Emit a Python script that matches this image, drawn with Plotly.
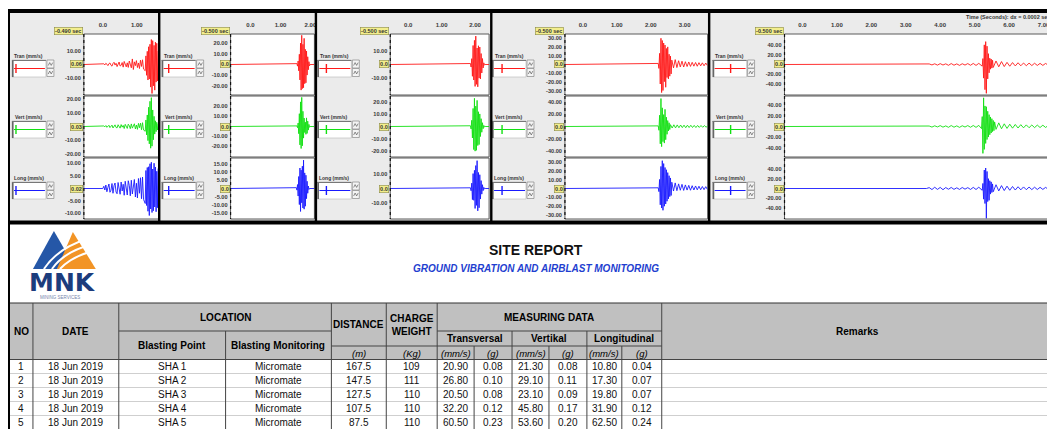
import plotly.graph_objects as go

# page is drawn 8px in from the window corner (default body margin)
OFF = 8
W, H = 1047, 421

# ------------------------------------------------------------------ data
CHANNELS = ["Tran (mm/s)", "Vert (mm/s)", "Long (mm/s)"]
SEC_LABELS = ["-0.490 sec", "-0.500 sec", "-0.500 sec", "-0.500 sec", "-0.500 sec"]
ZERO_LABELS = [["0.06", "0.03", "0.02"], ["0.0", "0.0", "0.0"], ["0.0", "0.0", "0.0"],
               ["0.0", "0.0", "0.0"], ["0.0", "0.0", "0.0"]]
X_TICKS = [[0, 1], [0, 1, 2], [0, 1, 2], [0, 1, 2, 3], [0, 1, 2, 3, 4, 5, 6, 7]]
X_TICK_TEXT = [["0.0", "1.00"], ["0.0", "1.00", "2.00"], ["0.0", "1.00", "2.00"],
               ["0.0", "1.00", "2.00", "3.00"],
               ["0.0", "1.00", "2.00", "3.00", "4.00", "5.00", "6.00", "7.00"]]
Y_TICKS = [
    [[10, -10], [20, 10, -10, -20], [10, 5, -5, -10]],
    [[20, 10, -10, -20], [20, 10, -10, -20], [15, 10, 5, -5, -10, -15]],
    [[10, -10], [20, 10, -10, -20], [10, -10]],
    [[30, 20, 10, -10, -20, -30], [40, 20, -20, -40], [30, 20, 10, -10, -20, -30]],
    [[40, 20, -20, -40], [40, 20, -20, -40], [40, 20, -20, -40]],
]
TIME_NOTE = "Time (Seconds): dx = 0.0002 sec"

# waveform segments: (start time s, sample step s, values mm/s)
P1_TRAN = [(0.0, 0.03, [0, 0.5, -0.3, 0.9, 0.2, -0.8, 0.6, 1.1, -0.5, -1.2, 0.7, 1.6, -0.4, 0.9, -1.5, 0.3,
                        1.8, -1.1, -0.6, 1.4, -1.9, 2.2, 0.5, -1.7, 1.2, -2.1, 2.5, 0.6, -2.4, 4.0, -3.6, 1.9,
                        -0.8, 2.8, -2.2, 1.1, -2.9, 3.1, -1.4, 3.4, -3.3]),
           (1.25, 0.02, [-4.5, 6.2, -7.8, 9.5, -11.2, 12.8, -10.5, 14.6, -16.3, 18.0, -20.9, 17.2, -15.4, 13.8,
                         -18.5, 16.1, -12.7, 15.3, -11.9, 9.8])]
P1_VERT = [(0.0, 0.03, [0, 0.4, -0.2, 0.7, -0.6, 0.3, 0.9, -0.8, -0.2, 1.0, -1.1, 0.5, 1.2, -0.7, -1.0, 1.3,
                        0.2, -1.2, 1.4, -0.5, 0.8, -1.5, 1.6, -0.3, -1.4, 1.7, 0.6, -1.6, 1.9, -1.2, 0.4, 2.0,
                        -1.8, 1.1, -2.1, 2.3, -0.9, 2.5, -2.4, 2.8, -2.6]),
           (1.25, 0.02, [-3.5, 4.8, -6.2, 8.5, -10.4, 14.2, -12.8, 18.6, -16.0, 21.3, -14.5, 12.2, -9.8, 7.5,
                         -5.6, 4.2, -3.8, 3.1, -2.6, 2.0])]
P1_LONG = [(0.0, 0.03, [0, 0.9, -0.6, 1.4, -1.3, 0.4, 1.8, -1.5, -0.7, 2.0, -1.9, 1.1, 2.2, -1.4, -2.1, 2.4,
                        0.6, -2.3, 2.6, -1.0, 1.7, -2.7, 2.9, -0.8, -2.6, 3.1, 1.2, -2.9, 3.3, -2.2, 0.9, 3.6,
                        -3.4, 2.1, -3.8, 4.0, -1.9, 4.3, -4.1, 4.6, -4.4]),
           (1.25, 0.02, [-6.0, 7.2, -6.8, 8.4, -9.1, 8.7, -10.8, 9.9, -8.2, 10.5, -9.6, 7.8, -8.9, 10.1, -7.4,
                         8.6, -9.3, 6.9, -7.7, 8.0])]

P2_TRAN = [(1.55, 0.02, [0.8, -1.5, 3.2, -5.8, 9.4, -14.2, 19.6, -23.5, 26.8, -22.1, 18.5, -21.3, 24.0, -17.6,
                         13.9, -16.8, 12.4, -9.7, 7.1, -4.8, 2.6, -1.2])]
P2_VERT = [(1.55, 0.02, [0.6, -1.2, 3.5, -7.2, 12.8, -18.4, 24.6, -22.0, 29.1, -19.3, 15.2, -11.6, 8.4, -6.0,
                         4.3, -7.8, 8.6, -6.9, 5.4, -3.6, 2.1, -0.8])]
P2_LONG = [(1.53, 0.02, [0.5, -1.0, 2.4, -4.6, 7.3, -9.8, 12.5, -14.0, 11.2, -8.7, 13.6, -11.9, 17.3, -12.6,
                         9.5, -10.8, 8.1, -6.2, 4.4, -2.9, 1.5, -0.6])]

P3_TRAN = [(1.86, 0.02, [0.7, -1.8, 4.2, -8.5, 13.7, -11.2, 17.4, -15.8, 20.5, -14.3, 11.9, -16.1, 13.5, -9.8,
                         12.6, -10.4, 7.9, -6.1, 4.3, -2.5, 1.2, -0.5])]
P3_VERT = [(1.86, 0.02, [0.6, -2.0, 5.1, -9.4, 14.8, -18.9, 23.1, -20.2, 16.7, -19.5, 21.4, -15.6, 12.1, -14.8,
                         10.3, -8.2, 6.4, -4.7, 3.1, -1.8, 0.9, -0.4])]
P3_LONG = [(1.86, 0.02, [0.5, -1.6, 3.8, -7.9, 10.6, -8.4, 12.9, -14.2, 16.3, -12.0, 19.8, -15.9, 11.4, -13.7,
                         9.8, -7.5, 5.6, -4.0, 2.7, -1.5, 0.8, -0.3])]

P4_TRAN = [(2.22, 0.02, [1.2, -4.5, 12.8, -22.4, 30.1, -32.2, 27.5, -29.8, 24.6, -19.7, 22.3, -26.1, 18.4, -14.9,
                         20.2, -16.5, 11.8, -13.4, 9.6, -10.8]),
           (2.62, 0.05, [5.0, -3.9, 5.6, -3.5, 4.3, -2.8, 3.8, -2.9, 3.2, -2.3, 2.9, -2.2, 2.5, -1.9, 2.3, -2.0,
                         2.1, -1.6, 1.9, -1.5, 1.7, -1.3])]
P4_VERT = [(2.22, 0.02, [1.0, -6.2, 18.5, -28.4, 45.8, -33.0, 30.6, -24.8, 19.5, -27.2, 28.1, -21.6, 15.3, -12.8,
                         9.7, -7.4, 6.1, -5.0]),
           (2.58, 0.05, [3.0, -2.5, 2.8, -2.3, 2.6, -2.0, 2.4, -1.8, 2.2, -2.0, 2.1, -1.7, 2.0, -1.6, 1.8, -1.7,
                         1.7, -1.5, 1.6, -1.3, 1.5, -1.2, 1.4])]
P4_LONG = [(2.22, 0.02, [0.8, -3.6, 10.4, -18.7, 25.3, -22.4, 31.9, -25.0, 28.6, -20.3, 24.1, -17.8, 21.5, -14.6,
                         18.2, -11.9, 14.7, -9.3, 12.1, -8.0]),
           (2.62, 0.05, [7.2, -2.9, 6.4, -2.5, 5.3, -2.0, 4.8, -2.2, 4.1, -1.8, 3.6, -2.0, 3.2, -1.7, 2.9, -1.5,
                         2.6, -1.4, 2.3, -1.3, 2.1, -1.1])]

P5_TRAN = [(3.6, 0.08, [0, 1.2, -0.9, 1.5, -1.3, 1.8, -1.1, 1.4, -1.7, 2.0, -1.5, 1.3, -1.8, 1.6, -1.2, 1.9,
                        -1.6, 2.2, -1.9, 2.4]),
           (5.22, 0.02, [-3.5, 12.4, -28.6, 41.2, -52.8, 48.0, -60.5, 38.4, -30.2, 22.7, -17.5, 13.2, -9.8, 11.4,
                         -7.6, 8.9]),
           (5.54, 0.08, [-6.2, 7.4, -4.8, 6.1, -4.3, 4.5, -3.6, 4.0, -3.0, 3.6, -2.7, 3.1, -2.5, 2.9, -2.2, 2.6,
                         -2.0, 2.4, -1.9, 2.2, -1.7, 2.0])]
P5_VERT = [(3.6, 0.08, [0, 0.9, -1.1, 1.3, -0.8, 1.6, -1.2, 1.1, -1.5, 1.8, -1.3, 1.2, -1.6, 1.4, -1.0, 1.7,
                        -1.4, 1.9, -1.6, 2.1]),
           (5.2, 0.02, [-4.0, 18.5, -50.2, 53.6, -42.8, 38.4, -31.6, 36.9, -24.3, 28.5, -19.7, 22.1, -15.4, 17.8,
                        -12.2, 14.6, -9.5, 11.3, -7.8, 8.6]),
           (5.62, 0.08, [-5.4, 6.8, -4.2, 5.0, -3.6, 4.3, -3.1, 3.8, -2.8, 3.4, -2.5, 3.0, -2.3, 2.8, -2.1, 2.6,
                         -1.9, 2.4, -1.8, 2.2, -1.7])]
P5_LONG = [(3.6, 0.08, [0, 1.8, -2.2, 2.6, -1.9, 2.3, -2.5, 2.0, -1.6, 2.2, -1.8, 1.5, -1.9, 2.1, -1.4, 1.8,
                        -2.0, 2.4, -2.1, 2.7]),
           (5.22, 0.02, [-3.8, 10.6, -22.4, 38.7, -31.5, 43.0, -62.5, 35.8, -27.4, 20.6, -24.8, 16.3, -11.7, 13.9,
                         -8.4, 9.6]),
           (5.54, 0.08, [-6.8, 7.9, -5.1, 6.0, -4.3, 4.9, -3.7, 4.2, -3.2, 3.7, -2.8, 3.3, -2.5, 3.0, -2.3, 2.7,
                         -2.1, 2.5, -1.9, 2.3, -1.8, 2.1])]

WAVES = [[P1_TRAN, P1_VERT, P1_LONG], [P2_TRAN, P2_VERT, P2_LONG], [P3_TRAN, P3_VERT, P3_LONG],
         [P4_TRAN, P4_VERT, P4_LONG], [P5_TRAN, P5_VERT, P5_LONG]]

# report table
TITLE = "SITE REPORT"
SUBTITLE = "GROUND VIBRATION AND AIRBLAST MONITORING"
NO = [1, 2, 3, 4, 5]
DATES = ["18 Jun 2019", "18 Jun 2019", "18 Jun 2019", "18 Jun 2019", "18 Jun 2019"]
BLAST_POINT = ["SHA 1", "SHA 2", "SHA 3", "SHA 4", "SHA 5"]
MONITOR = ["Micromate", "Micromate", "Micromate", "Micromate", "Micromate"]
DISTANCE = [167.5, 147.5, 127.5, 107.5, 87.5]
CHARGE = [109, 111, 110, 110, 110]
TRAN_PPV = [20.90, 26.80, 20.50, 32.20, 60.50]
TRAN_G = [0.08, 0.10, 0.08, 0.12, 0.23]
VERT_PPV = [21.30, 29.10, 23.10, 45.80, 53.60]
VERT_G = [0.08, 0.11, 0.09, 0.17, 0.20]
LONG_PPV = [10.80, 17.30, 19.80, 31.90, 62.50]
LONG_G = [0.04, 0.07, 0.07, 0.12, 0.24]

# ------------------------------------------------------------------ layout constants (window pixels)
PANELS = [
    dict(px0=84, px1=159, zero=103, pps=34.0, box=12, spike=4),
    dict(px0=231, px1=315, zero=251, pps=30.0, box=162, spike=7),
    dict(px0=391, px1=490, zero=409, pps=33.5, box=318, spike=9),
    dict(px0=566, px1=709, zero=584, pps=34.0, box=493, spike=10),
    dict(px0=786, px1=1055, zero=804, pps=34.5, box=714, spike=18),
]
ROWS = [(34, 95), (96, 157), (158, 219)]
BOX_Y = [60, 121, 182]
Y_HALF = [[22, 22.5, 12.2], [28, 30.5, 18.6], [22, 25, 21.7], [35, 50, 35], [64, 57, 64]]
COLORS = ["#ff1a1a", "#12e012", "#1a1aff"]

NARROW = "Liberation Sans Narrow, Arial Narrow, Liberation Sans, Arial, sans-serif"
SANS = "Liberation Sans, Arial, sans-serif"

shapes, anns = [], []


def fx(x):
    return (x - OFF) / W


def fy(y):
    return 1 - (y - OFF) / H


def rect(x0, y0, x1, y1, fill=None, line=None, lw=1, layer="below"):
    shapes.append(dict(type="rect", xref="paper", yref="paper", x0=fx(x0), x1=fx(x1), y0=fy(y1), y1=fy(y0),
                       fillcolor=fill or "rgba(0,0,0,0)",
                       line=dict(color=line or "rgba(0,0,0,0)", width=lw if line else 0), layer=layer))


def seg(x0, y0, x1, y1, color, lw=1, layer="below", dash="solid"):
    shapes.append(dict(type="line", xref="paper", yref="paper", x0=fx(x0), x1=fx(x1), y0=fy(y0), y1=fy(y1),
                       line=dict(color=color, width=lw, dash=dash), layer=layer))


def path(cmds, fill=None, line=None, lw=1, layer="below", close=False):
    """cmds: list of ('M'|'L', x, y) or ('Q', cx, cy, x, y) in window pixels."""
    parts = []
    for c in cmds:
        op, pts = c[0], c[1:]
        coords = " ".join(f"{fx(pts[i]):.5f},{fy(pts[i + 1]):.5f}" for i in range(0, len(pts), 2))
        parts.append(f"{op}{coords}")
    s = " ".join(parts) + (" Z" if close else "")
    shapes.append(dict(type="path", xref="paper", yref="paper", path=s,
                       fillcolor=fill or "rgba(0,0,0,0)",
                       line=dict(color=line or "rgba(0,0,0,0)", width=lw if line else 0), layer=layer))


def ann(x, y, text, size, color="#000", family=NARROW, xanchor="center", weight="normal", **kw):
    anns.append(dict(x=fx(x), y=fy(y), xref="paper", yref="paper", text=text, showarrow=False,
                     xanchor=xanchor, yanchor="middle",
                     font=dict(size=size, color=color, family=family, weight=weight), **kw))


# ------------------------------------------------------------------ seismograph section
rect(10, 13, 1056, 221, fill="#ebebeb")
fig = go.Figure()
layout_axes = {}
TINY = dict(size=6, color="#3a3a3a", family=SANS, weight="bold")
k = 0
for p, pan in enumerate(PANELS):
    xr = [(pan["px0"] - pan["zero"]) / pan["pps"], (pan["px1"] - pan["zero"]) / pan["pps"]]
    for c in range(3):
        k += 1
        r0, r1 = ROWS[c]
        rect(pan["px0"], r0, pan["px1"], r1, fill="#ffffff", line="#5a5a5a", lw=1)
        seg(pan["px0"], r0, pan["px0"], r1, "#111", lw=1.2, layer="above", dash="dot")
        ts, vs = [xr[0]], [0.0]
        for (t0, dt, vals) in WAVES[p][c]:
            for i, v in enumerate(vals):
                ts.append(t0 + i * dt)
                vs.append(v)
        last_t0, last_dt, last_vals = WAVES[p][c][-1]
        end_t = last_t0 + len(last_vals) * last_dt
        if end_t < xr[1]:
            ts += [end_t, xr[1]]
            vs += [0.0, 0.0]
        fig.add_trace(go.Scatter(x=ts, y=vs, mode="lines", line=dict(color=COLORS[c], width=0.9),
                                 xaxis=f"x{k}", yaxis=f"y{k}", hoverinfo="skip", showlegend=False))
        h = Y_HALF[p][c]
        layout_axes[f"xaxis{k}"] = dict(
            domain=[max(0, fx(pan["px0"])), min(1, fx(pan["px1"]))], range=xr, anchor=f"y{k}",
            showgrid=False, zeroline=False, showline=False, ticks="",
            showticklabels=(c == 0), side="top", tickvals=X_TICKS[p], ticktext=X_TICK_TEXT[p],
            tickfont=TINY, ticklabelstandoff=5, fixedrange=True)
        layout_axes[f"yaxis{k}"] = dict(
            domain=[fy(r1), fy(r0)], range=[-h, h], anchor=f"x{k}",
            showgrid=False, zeroline=False, showline=False, ticks="",
            tickvals=Y_TICKS[p][c], ticktext=[f"{v:.2f}" for v in Y_TICKS[p][c]],
            tickfont=dict(size=5.6, color="#3a3a3a", family=SANS, weight="bold"),
            ticklabelstandoff=2, fixedrange=True)
        anns.append(dict(x=fx(pan["px0"] - 1), y=0, xref="paper", yref=f"y{k}", text=ZERO_LABELS[p][c],
                         showarrow=False, xanchor="right", yanchor="middle", bgcolor="#f3ee8c",
                         bordercolor="#8a8a4a", borderwidth=0.6, borderpad=0.5,
                         font=dict(size=5.5, color="#333", family=SANS, weight="bold")))
        bx, by = pan["box"], BOX_Y[c]
        ann(bx + 17, by - 4, CHANNELS[c], 5, color="#333", family=SANS, weight="bold")
        rect(bx, by, bx + 34, by + 17, fill="#ffffff", line="#b5b5b5", lw=0.6)
        seg(bx + 0.8, by, bx + 0.8, by + 17, "#666", lw=1.6)
        seg(bx, by + 0.5, bx + 34, by + 0.5, "#777", lw=1)
        seg(bx + 2, by + 8.5, bx + 33, by + 8.5, COLORS[c], lw=1)
        seg(bx + pan["spike"], by + 4, bx + pan["spike"], by + 13, COLORS[c], lw=1.4)
        for j in range(2):
            iy = by + j * 8.5
            rect(bx + 35, iy, bx + 42, iy + 8, fill="#f4f4f4", line="#777", lw=0.6)
            path([("M", bx + 36.3, iy + 5.5), ("L", bx + 37.8, iy + 2.6), ("L", bx + 39.3, iy + 5.4),
                  ("L", bx + 40.8, iy + 2.6)], line="#444", lw=0.6)
    anns.append(dict(x=fx(pan["px0"] - 1), y=fy(31), xref="paper", yref="paper", text=SEC_LABELS[p],
                     showarrow=False, xanchor="right", yanchor="middle", bgcolor="#f3ee8c",
                     bordercolor="#8a8a4a", borderwidth=0.6, borderpad=0.5,
                     font=dict(size=5.5, color="#333", family=SANS, weight="bold")))

ann(1054, 17.5, TIME_NOTE, 5.5, color="#333", family=SANS, xanchor="right", weight="bold")

rect(7, 9, 1056, 13, fill="#000")
rect(7, 9, 10, 430, fill="#000")
rect(7, 220.5, 1056, 224.5, fill="#000", layer="above")
for sx in [159.5, 316.5, 492.2, 710.5]:
    seg(sx, 11, sx, 222, "#000", lw=2.4, layer="above")

# ------------------------------------------------------------------ logo + titles
path([("M", 33, 269), ("L", 54, 231), ("L", 76, 269)], fill="#2557a7", close=True)
path([("M", 57, 269), ("L", 73, 232), ("L", 96, 269)], fill="#f29425", close=True)
for (a, b, c2, d, e, f) in [(44, 269, 58, 248, 87, 239), (52, 269, 64, 252, 90, 245), (60, 269, 71, 257, 93, 251)]:
    path([("M", a, b), ("Q", c2, d, e, f)], line="#ffffff", lw=2)
ann(63, 282, "<b>MNK</b>", 25, color="#1c3c7c", family="DejaVu Sans")
ann(60, 297, "MINING SERVICES", 4.5, color="#7585ad", family=SANS)
ann(537, 250, f"<b>{TITLE}</b>", 14, color="#111")
ann(537, 268, f"<b><i>{SUBTITLE}</i></b>", 10, color="#1f3fd0")

# ------------------------------------------------------------------ table
TOP, R1, R2, HB = 303, 331, 346, 359.5
ROW_H = 14
BOTTOM = 431
rect(10, TOP, 1056, HB, fill="#c0c0c0")
for i in range(1, 5):
    seg(10, HB + i * ROW_H, 1056, HB + i * ROW_H, "#cfcfcf", lw=1)
seg(10, TOP, 1056, TOP, "#333", lw=1.2)
seg(10, HB, 1056, HB, "#444", lw=1)
seg(119, R1, 332, R1, "#444", lw=1)
seg(438, R1, 663, R1, "#444", lw=1)
seg(332, R2, 663, R2, "#444", lw=1)
for x in [33, 119, 332, 387, 438, 663]:
    seg(x, TOP, x, BOTTOM, "#444", lw=1)
for x in [226, 513, 588]:
    seg(x, R1, x, BOTTOM, "#444", lw=1)
for x in [475, 550, 623]:
    seg(x, R2, x, BOTTOM, "#444", lw=1)

HF = 10
ann(21.5, 331, "<b>NO</b>", HF)
ann(76, 331, "<b>DATE</b>", HF)
ann(225.5, 317, "<b>LOCATION</b>", HF)
ann(172.5, 345, "<b>Blasting Point</b>", HF)
ann(279, 345, "<b>Blasting Monitoring</b>", HF)
ann(359.5, 324.5, "<b>DISTANCE</b>", HF)
ann(412.5, 324.5, "<b>CHARGE<br>WEIGHT</b>", HF)
ann(550.5, 317, "<b>MEASURING DATA</b>", HF)
ann(475.5, 338.5, "<b>Transversal</b>", HF)
ann(550.5, 338.5, "<b>Vertikal</b>", HF)
ann(625.5, 338.5, "<b>Longitudinal</b>", HF)
ann(859, 331, "<b>Remarks</b>", HF)
UNITS = [(359.5, "(m)"), (412.5, "(Kg)"), (456.5, "(mm/s)"), (494, "(g)"), (531.5, "(mm/s)"),
         (569, "(g)"), (605.5, "(mm/s)"), (643, "(g)")]
for x, u in UNITS:
    ann(x, 353, f"<i>{u}</i>", 9.5)

COL_X = [21.5, 76, 172.5, 279, 359.5, 412.5, 456.5, 494, 531.5, 569, 605.5, 643]
for i in range(5):
    yc = HB + ROW_H * i + ROW_H / 2
    vals = [str(NO[i]), DATES[i], BLAST_POINT[i], MONITOR[i], f"{DISTANCE[i]:.1f}", str(CHARGE[i]),
            f"{TRAN_PPV[i]:.2f}", f"{TRAN_G[i]:.2f}", f"{VERT_PPV[i]:.2f}", f"{VERT_G[i]:.2f}",
            f"{LONG_PPV[i]:.2f}", f"{LONG_G[i]:.2f}"]
    for x, v in zip(COL_X, vals):
        ann(x, yc, v, 10, color="#111")

fig.update_layout(width=W, height=H, margin=dict(l=0, r=0, t=0, b=0), paper_bgcolor="#ffffff",
                  plot_bgcolor="rgba(0,0,0,0)", shapes=shapes, annotations=anns, showlegend=False,
                  **layout_axes)
fig.write_html("out.html")
